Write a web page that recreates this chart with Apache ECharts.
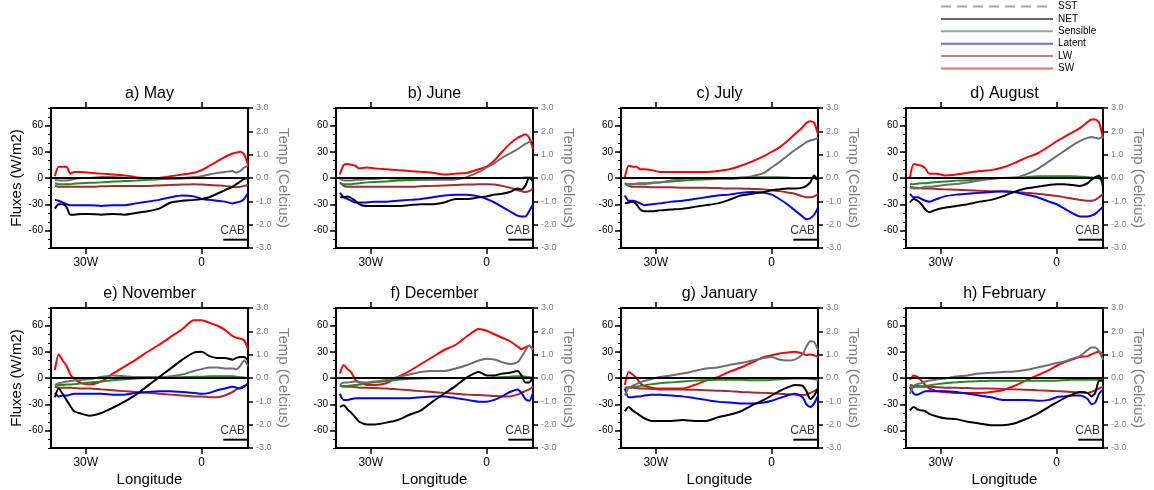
<!DOCTYPE html>
<html><head><meta charset="utf-8">
<script src="https://cdn.jsdelivr.net/npm/echarts@6/dist/echarts.min.js"></script>
<style>html,body{margin:0;padding:0;background:#fff}#c{width:1154px;height:490px}</style>
</head><body><div id="c"></div>
<script>
// Longitudes (negative = West)
const lon = [-38, -37, -36, -35, -34, -33, -31, -29, -26, -23, -20, -17, -14, -11, -8, -5, -2, 0, 2, 4, 6, 8, 9, 10, 11, 12];
const titles = ['a) May', 'b) June', 'c) July', 'd) August', 'e) November', 'f) December', 'g) January', 'h) February'];
const xTicks = [-30, 0];
const yTicks = [-60, -30, 0, 30, 60];

// May
const sw_may = [2, 13, 13, 13, 5, 7, 7, 6, 5, 4, 3, 1, 0, 0, 2, 4, 6, 9, 14, 19, 24, 28, 29, 30, 27, 15];
const net_may = [-35, -30, -30, -33, -42, -42, -41, -41, -42, -41, -42, -40, -38, -35, -28, -26, -25, -24, -22, -18, -14, -10, -7, -4, -1, 0];
const lat_may = [-25, -26, -28, -30, -31, -31, -31, -31, -32, -31, -31, -29, -27, -25, -22, -20, -21, -24, -25, -26, -27, -29, -28, -27, -24, -17];
const lw_may = [-9, -10, -10, -10, -10, -10, -10, -10, -9.5, -9, -9, -9, -9, -8.5, -8, -7.5, -7, -7.5, -8, -8.5, -9, -10, -10.5, -10, -9, -8];
const sen_may = [-6, -7, -7, -7, -7, -6.5, -6, -5.5, -5, -4, -3.5, -3, -2, -1.5, -1, -0.5, 0, 0, 0, 0, 0, 0, 0, 0, 0, -0.5];
const sst_may = [-0.08, -0.11, -0.11, -0.11, -0.08, -0.04, 0, 0, 0.04, 0.04, 0.02, 0, 0, 0, 0, 0, 0.04, 0.08, 0.15, 0.22, 0.26, 0.3, 0.23, 0.3, 0.45, 0.52];
// June
const sw_jun = [4, 15, 16, 15, 14, 11, 12, 11, 10, 9, 8, 7, 6, 4, 5, 6, 10, 13, 20, 30, 39, 46, 48, 50, 46, 33];
const net_jun = [-22, -22, -21, -23, -26, -30, -32, -32, -32, -32, -31, -30, -30, -28, -24, -24, -22, -21, -19, -18, -16, -12, -13, -9, 0, -4];
const lat_jun = [-17, -22, -24, -26, -28, -28, -28, -27, -27, -26, -25, -24, -22, -20, -19, -19, -21, -24, -28, -33, -38, -43, -44, -44, -38, -30];
const lw_jun = [-5, -9, -10, -10, -10, -10, -10, -10, -10, -10, -10, -9.5, -9, -8.5, -8, -7.5, -7, -7, -7.5, -9, -11, -14, -15, -16, -15, -12];
const sen_jun = [-6, -7, -7, -7, -6.5, -6, -5, -4.5, -4, -3, -2.5, -2, -1.5, -1, -0.5, 0, 0, 0, 0, 0, 0, 0, 0, 0.5, 0.5, 0.5];
const sst_jun = [-0.04, -0.11, -0.11, -0.11, -0.08, -0.08, -0.04, -0.04, 0, -0.04, -0.04, -0.08, -0.08, -0.08, -0.06, 0.05, 0.26, 0.45, 0.64, 0.86, 1.05, 1.24, 1.35, 1.46, 1.54, 1.61];
// July
const sw_jul = [1, 14, 13, 13, 10, 10, 9, 7, 7, 7, 7, 7, 8, 10, 14, 19, 25, 30, 35, 42, 50, 58, 63, 65, 63, 50];
const net_jul = [-29, -28, -27, -30, -36, -38, -38, -37, -36, -35, -33, -31, -29, -25, -20, -18, -16, -14, -13, -12, -12, -11, -9, -5, 3, -3];
const lat_jul = [-20, -26, -26, -27, -29, -31, -30, -29, -27, -26, -24, -22, -20, -19, -17, -16, -17, -19, -24, -30, -37, -44, -47, -46, -42, -34];
const lw_jul = [-6, -9, -10, -10, -10, -10, -10.5, -10.5, -10.5, -11, -11, -11, -11.5, -12, -12, -12.5, -13, -14, -15, -16.5, -18, -21, -22, -22, -21, -18];
const sen_jul = [-7, -7, -7, -6.5, -6, -6, -5.5, -5, -4, -3, -2, -1.5, -1, 0, 0.5, 1, 1, 1, 1, 0.5, 0, 0, 0, 0, -0.5, -1];
const sst_jul = [-0.22, -0.26, -0.26, -0.26, -0.26, -0.26, -0.22, -0.19, -0.11, -0.04, 0, 0, -0.02, -0.04, 0, 0.08, 0.22, 0.45, 0.68, 0.94, 1.2, 1.42, 1.54, 1.61, 1.65, 1.72];
// August
const sw_aug = [0, 16, 15, 14, 11, 5, 5, 3, 4, 6, 8, 9, 12, 17, 23, 28, 36, 42, 47, 52, 57, 64, 67, 67, 63, 45];
const net_aug = [-28, -24, -26, -30, -36, -39, -36, -34, -32, -30, -27, -25, -21, -16, -12, -10, -8, -7, -7, -8, -9, -6, -2, 1, 3, -10];
const lat_aug = [-18, -22, -22, -24, -26, -27, -24, -21, -19, -18, -17, -16, -15, -16, -19, -22, -27, -30, -35, -40, -44, -44, -43, -41, -37, -33];
const lw_aug = [-10, -11, -11, -12, -12, -12, -12.5, -13, -13.5, -14, -14.5, -15, -15.5, -16, -17, -18, -19.5, -20.5, -22, -23.5, -25, -26, -26, -25, -22, -18];
const sen_aug = [-7, -7, -6.5, -6, -6, -5.5, -4.5, -4, -3, -2.5, -1.5, -0.5, 0, 0.5, 1, 2, 2, 2, 2, 2, 1.5, 1, 0.5, 0, -0.5, -1];
const sst_aug = [-0.41, -0.45, -0.45, -0.41, -0.38, -0.38, -0.34, -0.3, -0.26, -0.19, -0.11, -0.04, 0, 0, 0.15, 0.38, 0.71, 0.94, 1.16, 1.39, 1.58, 1.72, 1.76, 1.72, 1.69, 1.8];
// November
const sw_nov = [9, 27, 20, 14, 4, -1, -6, -7, -4, 5, 13, 21, 30, 38, 47, 56, 66, 66, 63, 60, 55, 48, 46, 45, 43, 33];
const net_nov = [-22, -12, -18, -25, -32, -38, -41, -43, -40, -34, -27, -19, -9, 1, 11, 21, 29, 30, 25, 23, 23, 21, 23, 24, 24, 20];
const lat_nov = [-17, -21, -20, -20, -19, -18, -18, -18, -18, -19, -19, -17, -16, -15, -15, -16, -17, -18, -17, -14, -12, -10, -11, -12, -10, -6];
const lw_nov = [-10, -11, -11, -11, -11, -11.5, -12, -12, -13, -14, -15, -16, -17, -18, -19, -20, -21, -21, -22, -22, -20, -16, -13, -11, -9, -7];
const sen_nov = [-9, -8, -8, -7.5, -7.5, -7, -6, -5, -4, -2.5, -1.5, -0.5, 0, 0, 0.5, 1, 1.5, 1.5, 2, 2, 2, 2, 1.5, 1, 0.5, 0];
const sst_nov = [-0.3, -0.22, -0.19, -0.15, -0.13, -0.11, -0.08, -0.04, 0.04, 0.11, 0.08, 0.04, 0.04, 0.04, 0.08, 0.15, 0.3, 0.38, 0.45, 0.45, 0.41, 0.41, 0.38, 0.52, 0.75, 0.52];
// December
const sw_dec = [5, 15, 10, 6, -2, -5, -8, -8, -6, 1, 8, 16, 24, 32, 38, 48, 56, 54, 50, 46, 42, 36, 33, 35, 37, 32];
const net_dec = [-33, -31, -36, -40, -45, -50, -53, -53, -51, -48, -42, -37, -27, -18, -9, 1, 7, 3, 3, 5, 6, 8, 3, -5, -5, 2];
const lat_dec = [-18, -25, -25, -24, -23, -23, -23, -23, -23, -23, -23, -22, -21, -21, -23, -25, -27, -27, -25, -21, -16, -13, -17, -24, -26, -17];
const lw_dec = [-9, -10, -10, -10, -10.5, -11, -11, -11.5, -12, -13, -14, -15, -16, -17, -18, -19, -19.5, -20, -20.5, -21, -21, -19, -17, -15, -13, -10];
const sen_dec = [-9, -9, -9, -8.5, -8, -7.5, -6, -5, -3.5, -2, -1, -0.5, 0, 0, 0, 0, 0, 0, 0.5, 1, 1.5, 2, 2, 1.5, 1, 0];
const sst_dec = [-0.3, -0.19, -0.19, -0.17, -0.15, -0.17, -0.19, -0.15, -0.08, 0.04, 0.15, 0.26, 0.3, 0.3, 0.41, 0.56, 0.75, 0.83, 0.79, 0.68, 0.6, 0.68, 0.9, 1.16, 1.39, 1.24];
// January
const sw_jan = [-8, 7, 4, 0, -6, -9, -11, -12, -12, -12, -8, -3, 1, 7, 12, 18, 24, 26, 28, 29, 30, 28, 26, 27, 26, 24];
const net_jan = [-38, -33, -37, -40, -43, -46, -49, -49, -49, -48, -49, -49, -45, -42, -38, -31, -25, -20, -15, -11, -8, -9, -15, -24, -20, -12];
const lat_jan = [-12, -22, -22, -21, -21, -20, -19, -19, -20, -21, -23, -25, -27, -28, -29, -29, -28, -26, -23, -20, -18, -22, -30, -33, -29, -20];
const lw_jan = [-11, -11, -11, -11.5, -12, -12, -12.5, -13, -13, -13, -13.5, -14, -14.5, -15, -16, -16.5, -17, -17.5, -18, -18.5, -19, -19.5, -19, -17, -15, -12];
const sen_jan = [-11, -10.5, -10, -10, -9, -8.5, -7, -6, -5, -4, -3, -2.5, -2, -2, -2, -2.5, -2.5, -2, -1.5, -1, -0.5, -0.5, -0.5, -1, -1.5, -2];
const sst_jan = [-0.75, -0.41, -0.34, -0.26, -0.19, -0.13, -0.04, 0.04, 0.11, 0.19, 0.3, 0.41, 0.45, 0.56, 0.64, 0.75, 0.86, 0.9, 0.79, 0.75, 0.79, 1.01, 1.35, 1.58, 1.54, 1.2];
// February
const sw_feb = [-2, 3, 1, -3, -8, -12, -15, -16, -17, -17, -17, -16, -14, -9, -3, 3, 9, 14, 18, 21, 24, 25, 27, 29, 30, 27];
const net_feb = [-37, -33, -36, -37, -38, -41, -44, -46, -47, -50, -52, -54, -54, -52, -47, -41, -33, -28, -23, -19, -16, -17, -21, -17, -3, -3];
const lat_feb = [-10, -18, -19, -17, -15, -15, -15, -15, -16, -18, -20, -22, -25, -25, -25, -26, -25, -22, -21, -20, -20, -24, -30, -28, -18, -13];
const lw_feb = [-8, -9, -9, -9.5, -10, -10, -10.5, -11, -11, -11.5, -12, -12, -12.5, -13, -13.5, -14, -14.5, -15, -15.5, -16, -16.5, -17, -16, -14, -12, -10];
const sen_feb = [-11, -10.5, -10, -10, -9, -8.5, -7, -6, -5, -4, -3.5, -3, -3, -3, -3, -3, -3, -3, -2.5, -2, -2, -2, -2, -2, -2, -2];
const sst_feb = [-0.68, -0.34, -0.26, -0.22, -0.15, -0.11, -0.06, -0.02, 0.06, 0.11, 0.19, 0.22, 0.26, 0.28, 0.34, 0.45, 0.56, 0.64, 0.71, 0.83, 0.94, 1.2, 1.31, 1.31, 1.13, 0.79];

// CAB marker (longitude span and flux level) and label
const cabLine = [[5.6, -70.5], [12, -70.5]];
const cabText = [[8.0, -60.5]];

const panels = [
  [sw_may, lw_may, lat_may, sen_may, sst_may, net_may],
  [sw_jun, lw_jun, lat_jun, sen_jun, sst_jun, net_jun],
  [sw_jul, lw_jul, lat_jul, sen_jul, sst_jul, net_jul],
  [sw_aug, lw_aug, lat_aug, sen_aug, sst_aug, net_aug],
  [sw_nov, lw_nov, lat_nov, sen_nov, sst_nov, net_nov],
  [sw_dec, lw_dec, lat_dec, sen_dec, sst_dec, net_dec],
  [sw_jan, lw_jan, lat_jan, sen_jan, sst_jan, net_jan],
  [sw_feb, lw_feb, lat_feb, sen_feb, sst_feb, net_feb]
];
const names = ['SW', 'LW', 'Latent', 'Sensible', 'SST', 'NET'];
const colors = { SW: '#ff0000', LW: '#a52a2a', Latent: '#0000ff', Sensible: '#228b22', SST: '#6e6e6e', NET: '#000000' };

const FONT = "'Liberation Sans', Arial, Helvetica, sans-serif";
const lefts = [51, 336, 621, 906];
const tops = [108, 308];
const W = 197, H = 140;

const grid = [], xAxis = [], yAxis = [], series = [], title = [];
const pair = (arr) => lon.map((x, k) => [x, arr[k]]);
const noLine = { show: false, onZero: false };

for (let i = 0; i < 8; i++) {
  const row = Math.floor(i / 4), col = i % 4;
  const L = lefts[col], T = tops[row];
  grid.push({ left: L, top: T, width: W, height: H, show: true, borderColor: '#000', borderWidth: 2, backgroundColor: 'transparent' });
  title.push({ text: titles[i], left: L + W / 2, top: T - 22, textAlign: 'center', padding: 0,
    textStyle: { fontSize: 16, fontWeight: 'normal', color: '#000', fontFamily: FONT } });
  xAxis.push({
    gridIndex: i, type: 'value', min: -39, max: 12, position: 'bottom',
    axisLine: noLine, splitLine: { show: false },
    axisTick: { show: true, customValues: xTicks, length: 6, lineStyle: { color: '#000', width: 1.5 } },
    axisLabel: { customValues: xTicks, formatter: v => v < 0 ? (-v) + 'W' : String(v), fontSize: 12, color: '#000', margin: 9, fontFamily: FONT },
    name: row === 1 ? 'Longitude' : '', nameLocation: 'middle', nameGap: 24,
    nameTextStyle: { fontSize: 15, color: '#000', fontFamily: FONT }
  });
  xAxis.push({
    gridIndex: i, type: 'value', min: -39, max: 12, position: 'top',
    axisLine: noLine, splitLine: { show: false }, axisLabel: { show: false },
    axisTick: { show: true, customValues: xTicks, length: 6, lineStyle: { color: '#000', width: 1.5 } }
  });
  yAxis.push({
    gridIndex: i, type: 'value', min: -80, max: 80, interval: 10, position: 'left',
    axisLine: noLine, splitLine: { show: false },
    axisTick: { show: true, length: 3, lineStyle: { color: '#000', width: 1 } },
    axisLabel: { customValues: yTicks, fontSize: 10, color: '#000', margin: 8, fontFamily: FONT },
    name: col === 0 ? 'Fluxes (W/m2)' : '', nameLocation: 'middle', nameGap: 26,
    nameTextStyle: { fontSize: 15, color: '#000', fontFamily: FONT }
  });
  yAxis.push({
    gridIndex: i, type: 'value', min: -80, max: 80, position: 'left',
    axisLine: noLine, splitLine: { show: false }, axisLabel: { show: false },
    axisTick: { show: true, customValues: yTicks, length: 6, lineStyle: { color: '#000', width: 1.5 } }
  });
  yAxis.push({
    gridIndex: i, type: 'value', min: -3, max: 3, interval: 1, position: 'right',
    axisLine: noLine, splitLine: { show: false },
    axisTick: { show: true, length: 5, lineStyle: { color: '#000', width: 1.5 } },
    axisLabel: { formatter: v => v.toFixed(1), fontSize: 9, color: '#808080', margin: 8, fontFamily: FONT },
    name: 'Temp (Celcius)', nameLocation: 'middle', nameRotate: -90, nameGap: 28,
    nameTextStyle: { fontSize: 15, color: '#808080', fontFamily: FONT }
  });

  const data = panels[i];
  names.forEach((nm, k) => {
    if (nm === 'NET') return;
    series.push({
      name: nm, type: 'line', xAxisIndex: 2 * i, yAxisIndex: nm === 'SST' ? 3 * i + 2 : 3 * i,
      data: pair(data[k]), symbol: 'none', smooth: 0.25, silent: true,
      lineStyle: { color: colors[nm], width: 2 }, itemStyle: { color: colors[nm] }
    });
  });
  // zero line
  series.push({ name: 'zero', type: 'line', xAxisIndex: 2 * i, yAxisIndex: 3 * i, data: [[-39, 0], [12, 0]],
    symbol: 'none', silent: true, lineStyle: { color: '#000', width: 2 } });
  series.push({
    name: 'NET', type: 'line', xAxisIndex: 2 * i, yAxisIndex: 3 * i,
    data: pair(data[5]), symbol: 'none', smooth: 0.25, silent: true,
    lineStyle: { color: colors.NET, width: 2 }, itemStyle: { color: colors.NET }
  });
  series.push({ name: 'cab', type: 'line', xAxisIndex: 2 * i, yAxisIndex: 3 * i, data: cabLine,
    symbol: 'none', silent: true, lineStyle: { color: '#000', width: 2 } });
  series.push({ name: 'cabtxt', type: 'scatter', xAxisIndex: 2 * i, yAxisIndex: 3 * i, data: cabText,
    symbolSize: 1, silent: true, itemStyle: { color: 'transparent' },
    label: { show: true, formatter: 'CAB', position: 'inside', fontSize: 12, color: '#000', fontFamily: FONT } });
}

const legendOrder = ['SST', 'NET', 'Sensible', 'Latent', 'LW', 'SW'];
const legend = {
  orient: 'vertical', left: 940, top: 1.5, padding: 0, itemWidth: 112, itemHeight: 10, itemGap: 2.4,
  selectedMode: false,
  textStyle: { fontSize: 10, color: '#000', fontFamily: FONT, lineHeight: 10 },
  data: legendOrder.map(nm => ({
    name: nm,
    lineStyle: { color: colors[nm], width: 2, opacity: 0.6, type: nm === 'SST' ? [10, 6] : 'solid' },
    itemStyle: { color: 'transparent', borderWidth: 0, opacity: 0 }
  }))
};

const chart = echarts.init(document.getElementById('c'), null, { renderer: 'canvas' });
chart.setOption({ animation: false, backgroundColor: '#fff', title, legend, grid, xAxis, yAxis, series });
</script>
</body></html>
